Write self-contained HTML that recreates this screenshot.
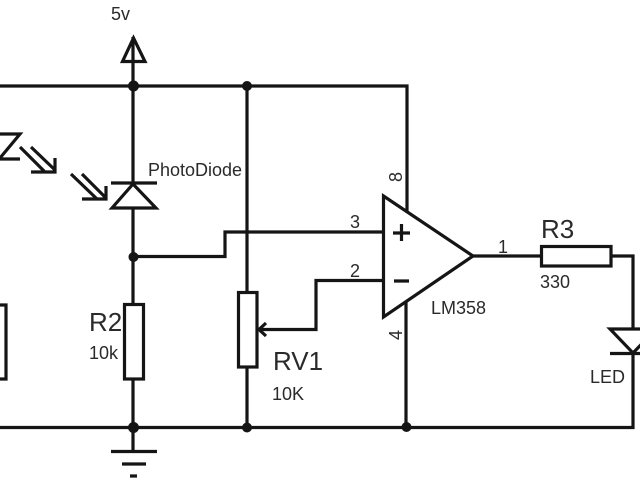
<!DOCTYPE html>
<html>
<head>
<meta charset="utf-8">
<style>
html,body{margin:0;padding:0;background:#fff;width:640px;height:480px;overflow:hidden}
svg{display:block}
text{font-family:"Liberation Sans",sans-serif;fill:#2a2a2a;style:normal}
</style>
</head>
<body>
<svg width="640" height="480" viewBox="0 0 640 480" xmlns="http://www.w3.org/2000/svg">
<rect width="640" height="480" fill="#fff"/>
<g fill="none" stroke="#151515" stroke-width="3.200" style="filter:blur(.35px)">
  <!-- rails -->
  <path d="M0 86H407V211M0 427.500H633V353M633 329V256H611"/>
  <!-- 5v arrow -->
  <path d="M133 86V37M122.500 61.500H145L133.500 38Z"/>
  <!-- photodiode -->
  <path d="M133 86V183M111 183H157M133 184L112 208H156ZM133 208V304"/>
  <path d="M71 174L97 199M82 174L106 198M106 186V199H82"/>
  <!-- left LED fragment -->
  <path d="M0 134H20L0 158M0 159H20"/>
  <path d="M20 147L45 172M31 147L55 170M55 158V172H31"/>
  <!-- left resistor fragment -->
  <path d="M-3 305H6V379H-3"/>
  <!-- R2 -->
  <rect x="124.500" y="304.500" width="19" height="74.500"/>
  <path d="M133 379V427M133 427V451"/>
  <!-- ground -->
  <path d="M111 451.500H157M122 464H146M130 476H137"/>
  <!-- comparator input -->
  <path d="M133 256.500H225V232H383"/>
  <!-- RV1 -->
  <path d="M247 86V292M247 367V427"/>
  <rect x="238.500" y="292.500" width="18.500" height="74.500"/>
  <path d="M259 329.500H316V280.500H383M266 323L259 329.500L266 336"/>
  <!-- opamp -->
  <path d="M383.500 196L473 256L383.500 317Z" stroke-linejoin="miter"/>
  <path d="M406 301V427"/>
  <path d="M473 256H541"/>
  <path d="M393 233H410M401.500 224V241M394 281H409"/>
  <!-- R3 -->
  <rect x="541.500" y="246.500" width="69.500" height="19.500"/>
  <!-- output LED -->
  <path d="M610 329H656L633 353ZM610 353.500H656"/>
</g>
<g fill="#151515">
  <circle cx="133.500" cy="86" r="5.500"/>
  <circle cx="247" cy="86" r="5"/>
  <circle cx="133.500" cy="257" r="5"/>
  <circle cx="133.500" cy="427.500" r="5.500"/>
  <circle cx="247" cy="427.500" r="5"/>
  <circle cx="406.500" cy="427" r="5"/>
</g>
<text x="111" y="20" font-size="18">5v</text>
<text x="148" y="176" font-size="18">PhotoDiode</text>
<text x="89" y="331" font-size="26">R2</text>
<text x="89" y="359" font-size="18">10k</text>
<text x="273" y="370" font-size="26">RV1</text>
<text x="272" y="400" font-size="18">10K</text>
<text x="350" y="228" font-size="18">3</text>
<text x="350" y="277" font-size="18">2</text>
<text x="498" y="253" font-size="18">1</text>
<text x="541" y="238" font-size="26">R3</text>
<text x="540" y="288" font-size="18">330</text>
<text x="431" y="314" font-size="18">LM358</text>
<text x="590" y="383" font-size="18">LED</text>
<text transform="translate(402,182) rotate(-90)" font-size="18">8</text>
<text transform="translate(402,340) rotate(-90)" font-size="18">4</text>
</svg>
</body>
</html>
